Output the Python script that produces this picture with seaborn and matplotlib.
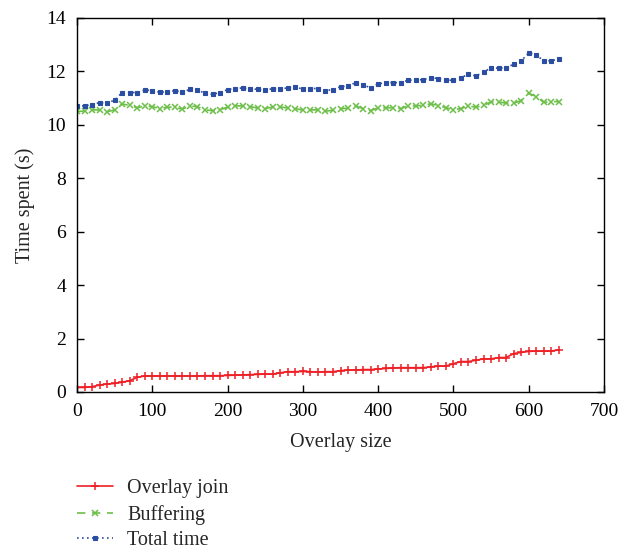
import numpy as np
import pandas as pd
import matplotlib
matplotlib.use("Agg")
import matplotlib.pyplot as plt
import seaborn as sns

overlay_size = list(range(0, 641, 10))

overlay_join = [0.17, 0.17, 0.20, 0.26, 0.30, 0.32, 0.37, 0.42, 0.55, 0.60,
                0.60, 0.60, 0.60, 0.60, 0.60, 0.60, 0.60, 0.61, 0.61, 0.61,
                0.62, 0.63, 0.64, 0.65, 0.66, 0.67, 0.67, 0.72, 0.76, 0.76,
                0.77, 0.76, 0.75, 0.76, 0.76, 0.80, 0.82, 0.82, 0.84, 0.84,
                0.86, 0.88, 0.90, 0.91, 0.91, 0.91, 0.91, 0.94, 0.97, 0.97,
                1.06, 1.14, 1.14, 1.19, 1.24, 1.24, 1.29, 1.29, 1.44, 1.48,
                1.52, 1.53, 1.53, 1.53, 1.58]

buffering = [10.51, 10.51, 10.56, 10.56, 10.49, 10.56, 10.78, 10.73, 10.64, 10.71,
             10.68, 10.61, 10.66, 10.66, 10.59, 10.71, 10.68, 10.56, 10.53, 10.56,
             10.67, 10.71, 10.71, 10.68, 10.63, 10.61, 10.67, 10.67, 10.63, 10.61,
             10.55, 10.56, 10.56, 10.51, 10.55, 10.61, 10.62, 10.71, 10.61, 10.53,
             10.64, 10.64, 10.64, 10.61, 10.71, 10.71, 10.73, 10.79, 10.72, 10.64,
             10.57, 10.61, 10.71, 10.66, 10.73, 10.86, 10.86, 10.81, 10.81, 10.91,
             11.18, 11.06, 10.84, 10.87, 10.87]

total_time = [10.71, 10.71, 10.76, 10.83, 10.81, 10.93, 11.21, 11.21, 11.21, 11.31,
              11.28, 11.22, 11.24, 11.28, 11.22, 11.33, 11.31, 11.18, 11.14, 11.21,
              11.32, 11.36, 11.38, 11.35, 11.33, 11.31, 11.35, 11.35, 11.38, 11.43,
              11.33, 11.36, 11.36, 11.28, 11.32, 11.43, 11.45, 11.58, 11.49, 11.39,
              11.53, 11.58, 11.58, 11.58, 11.67, 11.68, 11.69, 11.77, 11.73, 11.67,
              11.67, 11.77, 11.89, 11.83, 11.97, 12.14, 12.12, 12.14, 12.27, 12.39,
              12.70, 12.62, 12.39, 12.40, 12.47]

series_names = ["Overlay join", "Buffering", "Total time"]
x_ticks = [0, 100, 200, 300, 400, 500, 600, 700]
y_ticks = [0, 2, 4, 6, 8, 10, 12, 14]

df = pd.DataFrame({"x": overlay_size, series_names[0]: overlay_join,
                   series_names[1]: buffering, series_names[2]: total_time})

sns.set_style("ticks")
plt.rcParams["font.family"] = ["Liberation Serif", "DejaVu Serif"]
plt.rcParams["font.size"] = 14

fig = plt.figure(figsize=(6.33, 5.53), dpi=100)
ax = fig.add_axes([77 / 633, 1 - 392 / 553, (604 - 77) / 633, (392 - 18) / 553])

colors = ["#ee2026", "#6cbf48", "#2b4ea2"]
styles = [
    dict(marker="+", linestyle="-", markersize=6, markeredgewidth=1.1),
    dict(marker="x", linestyle=(0, (5, 4)), markersize=4.5, markeredgewidth=1.1),
    dict(marker="s", linestyle=(0, (1, 2)), markersize=3.2, markeredgewidth=0.8),
]
for name, st, c in zip(series_names, styles, colors):
    sns.lineplot(data=df, x="x", y=name, ax=ax, label=name, linewidth=1.2,
                 color=c, markeredgecolor=c, markerfacecolor=c, **st)

ax.set_xlim(0, 700)
ax.set_ylim(0, 14)
ax.set_xticks(x_ticks)
ax.set_yticks(y_ticks)
ax.set_xlabel("Overlay size", fontsize=14.5, labelpad=9)
ax.set_ylabel("Time spent (s)", fontsize=14.5, labelpad=8)
ax.tick_params(direction="in", top=True, right=True, length=5, width=1,
               labelsize=14, colors="black", pad=8)
for s in ax.spines.values():
    s.set_visible(True)
    s.set_linewidth(1.0)
    s.set_color("black")

handles, labels = ax.get_legend_handles_labels()
ax.get_legend().remove()
fig.legend(handles, labels, loc="upper left", bbox_to_anchor=(77 / 633, 1 - 479 / 553),
           frameon=False, fontsize=14.5, handlelength=1.8, handletextpad=0.7,
           labelspacing=0.33, borderpad=0, borderaxespad=0)

fig.savefig("out.png", dpi=100)
